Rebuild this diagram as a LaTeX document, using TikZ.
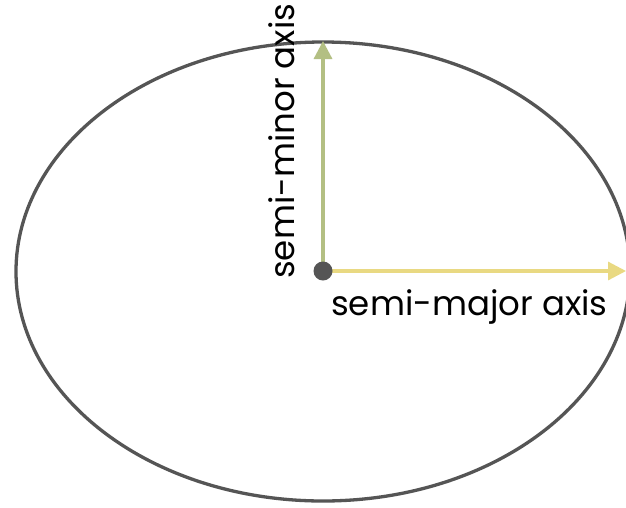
\documentclass[tikz,border=0pt]{standalone}
\usepackage{fontspec}
\setmainfont{Poppins}
\usetikzlibrary{arrows.meta}
\definecolor{ringgray}{HTML}{555555}
\definecolor{minorgreen}{HTML}{B3BF83}
\definecolor{majoryellow}{HTML}{E9D982}
\tikzset{
  axisarrow/.style={line width=3.2pt, -{Triangle[length=18pt,width=18pt]}},
  axislabel/.style={inner sep=0pt, font=\fontsize{34}{40}\selectfont, text=black}
}
\begin{document}
\begin{tikzpicture}[x=1pt,y=1pt]
\useasboundingbox (0,0) rectangle (626,-507);
\clip (0,0) rectangle (626,-507);
\fill[white] (0,0) rectangle (626,-507);
\draw[ringgray, line width=3.3pt] (323,-271.5) ellipse [x radius=307, y radius=229.5];
\coordinate (c) at (323,-271);
\coordinate (top) at (323,-41);
\coordinate (right) at (626,-271);
\draw[axisarrow, minorgreen] (c) -- (top);
\draw[axisarrow, majoryellow] (c) -- (right);
\fill[ringgray] (c) circle (9.5);
\node[axislabel, anchor=base west] (major) at (331,-315) {semi-major axis};
\node[axislabel, anchor=base west, rotate=90] (minor) at (294,-279) {semi-minor axis};
\end{tikzpicture}
\end{document}
